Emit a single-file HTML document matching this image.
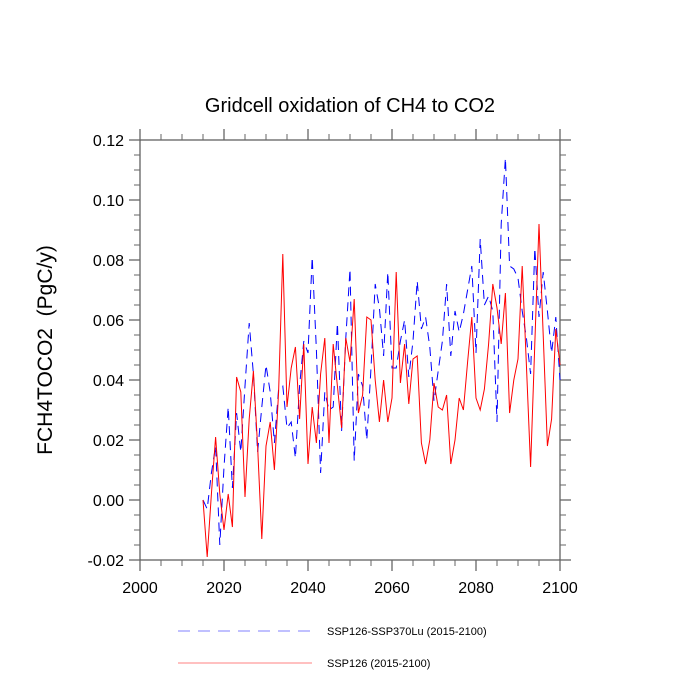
<!DOCTYPE html>
<html><head><meta charset="utf-8"><style>
body{margin:0;background:#fff;}
svg{display:block;font-family:"Liberation Sans",sans-serif;}
</style></head><body>
<svg id="chart" width="700" height="700" viewBox="0 0 700 700">
<text x="350" y="112" text-anchor="middle" font-size="20">Gridcell oxidation of CH4 to CO2</text>
<text transform="translate(52,350) rotate(-90)" text-anchor="middle" font-size="21">FCH4TOCO2&#160;&#160;(PgC/y)</text>
<g id="axes"></g>
<g id="series"></g>
<g>
<line x1="178" y1="631" x2="312" y2="631" stroke="#8080ff" stroke-width="1" stroke-dasharray="12,8"/>
<text x="327" y="635" font-size="11">SSP126-SSP370Lu (2015-2100)</text>
<line x1="178" y1="663" x2="312" y2="663" stroke="#ff8080" stroke-width="1"/>
<text x="327" y="667" font-size="11">SSP126 (2015-2100)</text>
</g>
</svg>
<script>
const years = [];
for (let y = 2015; y <= 2100; y++) years.push(y);
const ssp126 = [0.000,-0.019,0.002,0.021,0.002,-0.010,0.002,-0.009,0.041,0.036,0.001,0.027,0.043,0.018,-0.013,0.018,0.026,0.010,0.036,0.082,0.031,0.044,0.051,0.027,0.052,0.012,0.031,0.019,0.042,0.054,0.019,0.052,0.038,0.024,0.054,0.046,0.067,0.029,0.035,0.061,0.060,0.040,0.026,0.040,0.026,0.034,0.076,0.039,0.052,0.032,0.047,0.048,0.019,0.012,0.020,0.039,0.031,0.030,0.035,0.012,0.020,0.034,0.030,0.046,0.061,0.034,0.030,0.037,0.052,0.072,0.064,0.052,0.069,0.029,0.040,0.047,0.078,0.045,0.011,0.052,0.092,0.055,0.018,0.027,0.057,0.045];
const ssp370lu = [0.000,-0.003,0.009,0.018,-0.015,0.011,0.031,0.004,0.029,0.016,0.038,0.059,0.042,0.016,0.031,0.045,0.036,0.019,0.037,0.038,0.024,0.026,0.014,0.038,0.053,0.049,0.081,0.050,0.009,0.036,0.030,0.031,0.059,0.023,0.054,0.077,0.013,0.042,0.038,0.020,0.044,0.072,0.064,0.048,0.076,0.044,0.044,0.053,0.060,0.041,0.053,0.073,0.057,0.061,0.051,0.033,0.043,0.053,0.072,0.048,0.063,0.056,0.062,0.070,0.078,0.049,0.087,0.065,0.068,0.063,0.026,0.092,0.114,0.078,0.077,0.074,0.063,0.054,0.042,0.084,0.061,0.076,0.063,0.049,0.061,0.040];
const xTicks = [2000,2020,2040,2060,2080,2100];
const yTicks = [-0.02,0.00,0.02,0.04,0.06,0.08,0.10,0.12];
const yTickLabels = ["-0.02","0.00","0.02","0.04","0.06","0.08","0.10","0.12"];

const L=140,R=560,T=140,B=560;
const xs = v => L + (v-2000)/(100)*(R-L);
const ys = v => B - (v+0.02)/0.14*(B-T);
const NS="http://www.w3.org/2000/svg";
function mk(tag, attrs, parent){const e=document.createElementNS(NS,tag);for(const k in attrs)e.setAttribute(k,attrs[k]);parent.appendChild(e);return e;}
const axes=document.getElementById('axes');
const frame=mk('rect',{x:L,y:T,width:R-L,height:B-T,fill:'none',stroke:'#555','stroke-width':1.2},axes);


const tc='#666';
for(let v=2000;v<=2100;v+=5){
  if(v%20===0) continue;
  const x=xs(v);
  mk('line',{x1:x,y1:B,x2:x,y2:B+6,stroke:tc},axes);
  mk('line',{x1:x,y1:T,x2:x,y2:T-6,stroke:tc},axes);
}
xTicks.forEach(v=>{
  const x=xs(v);
  mk('line',{x1:x,y1:B,x2:x,y2:B+11,stroke:tc,'stroke-width':1.3},axes);
  mk('line',{x1:x,y1:T,x2:x,y2:T-11,stroke:tc,'stroke-width':1.3},axes);
  const t=mk('text',{x:x,y:B+33,'text-anchor':'middle','font-size':16},axes);
  t.textContent=v;
  
  
});
for(let i=0;i<=28;i++){
  const v=-0.02+i*0.005;
  if(i%4===0) continue;
  const y=ys(v);
  mk('line',{x1:L,y1:y,x2:L-6,y2:y,stroke:tc},axes);
  mk('line',{x1:R,y1:y,x2:R+6,y2:y,stroke:tc},axes);
}
yTicks.forEach((v,i)=>{
  const y=ys(v);
  mk('line',{x1:L,y1:y,x2:L-11,y2:y,stroke:tc,'stroke-width':1.3},axes);
  mk('line',{x1:R,y1:y,x2:R+11,y2:y,stroke:tc,'stroke-width':1.3},axes);
  const t=mk('text',{x:L-16,y:y+6,'text-anchor':'end','font-size':16},axes);
  t.textContent=yTickLabels[i];
  
  
});
const ser=document.getElementById('series');
const p1=mk('polyline',{points:years.map((y,i)=>xs(y)+','+ys(ssp370lu[i])).join(' '),fill:'none',stroke:'#0000ff','stroke-width':1,'stroke-dasharray':'9,6'},ser);


const p2=mk('polyline',{points:years.map((y,i)=>xs(y)+','+ys(ssp126[i])).join(' '),fill:'none',stroke:'#ff0000','stroke-width':1},ser);


</script>
</body></html>
